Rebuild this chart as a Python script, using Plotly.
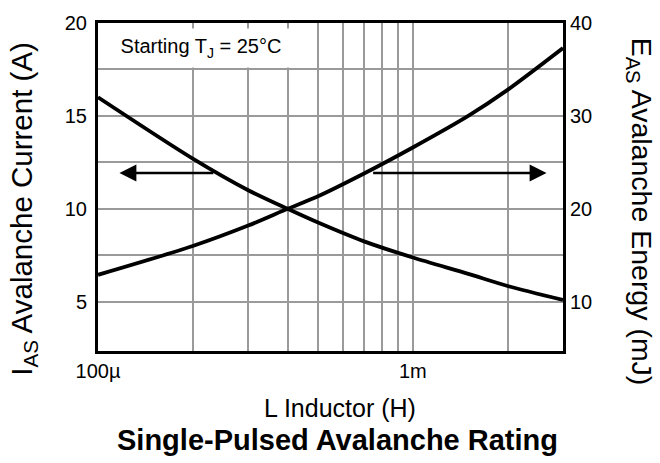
import numpy as np
import plotly.graph_objects as go

# Data
L_henry = [1e-4, 2e-4, 3e-4, 4e-4, 5e-4, 7e-4, 1e-3, 1.5e-3, 2e-3, 3e-3]
I_as = [16.0, 12.7, 11.0, 10.0, 9.26, 8.25, 7.38, 6.5, 5.85, 5.1]
E_as = [12.9, 16.0, 18.2, 20.0, 21.35, 23.8, 26.6, 30.0, 32.8, 37.3]

x_tickvals = [1e-4, 1e-3]
x_ticktext = ["100\u00b5", "1m"]
x_gridvals = [2e-4, 3e-4, 4e-4, 5e-4, 6e-4, 7e-4, 8e-4, 9e-4, 2e-3]
y_tickvals = [5, 10, 15, 20]
y_gridvals = [7.5, 12.5, 17.5]
y2_tickvals = [10, 20, 30, 40]

# arrows (x in H, y in A on left axis)
arrow_left = dict(tail=2.35e-4, head=1.17e-4, y=11.93)
arrow_right = dict(tail=7.4e-4, head=2.66e-3, y=11.93)

FONT = "Liberation Sans, Arial, sans-serif"
GRID = "#9a9a9a"

fig = go.Figure()
fig.add_trace(go.Scatter(x=L_henry, y=I_as, mode="lines",
                         line=dict(color="black", width=3.8, shape="spline", smoothing=0.8),
                         yaxis="y", showlegend=False, hoverinfo="skip"))
fig.add_trace(go.Scatter(x=L_henry, y=E_as, mode="lines",
                         line=dict(color="black", width=3.8, shape="spline", smoothing=0.8),
                         yaxis="y2", showlegend=False, hoverinfo="skip"))

annotations = []
for a in (arrow_left, arrow_right):
    annotations.append(dict(
        x=np.log10(a["head"]), y=a["y"], ax=np.log10(a["tail"]), ay=a["y"],
        xref="x", yref="y", axref="x", ayref="y",
        showarrow=True, arrowhead=2, arrowsize=1.3, arrowwidth=2.6,
        arrowcolor="black", text=""))

annotations.append(dict(
    x=(201 - 98) / 465, y=(351 - 44) / 332, xref="paper", yref="paper",
    text="Starting T<sub>J</sub> = 25\u00b0C", showarrow=False,
    font=dict(family=FONT, size=20, color="black"),
    bgcolor="white", width=202, height=38, borderpad=0,
    xanchor="center", yanchor="middle"))

annotations.append(dict(
    x=(24 - 98) / 465, y=(351 - 207) / 332, xref="paper", yref="paper",
    text="I<sub>AS</sub> Avalanche Current (A)", showarrow=False, textangle=-90,
    font=dict(family=FONT, size=29.5, color="black"),
    xanchor="center", yanchor="middle"))
annotations.append(dict(
    x=(640 - 98) / 465, y=(351 - 210) / 332, xref="paper", yref="paper",
    text="E<sub>AS</sub> Avalanche Energy (mJ)", showarrow=False, textangle=90,
    font=dict(family=FONT, size=28.5, color="black"),
    xanchor="center", yanchor="middle"))
annotations.append(dict(
    x=(340 - 98) / 465, y=(351 - 409) / 332, xref="paper", yref="paper",
    text="L Inductor (H)", showarrow=False,
    font=dict(family=FONT, size=25, color="black"),
    xanchor="center", yanchor="middle"))
annotations.append(dict(
    x=(337 - 98) / 465, y=(351 - 441) / 332, xref="paper", yref="paper",
    text="<b>Single-Pulsed Avalanche Rating</b>", showarrow=False,
    font=dict(family=FONT, size=29, color="black"),
    xanchor="center", yanchor="middle"))

fig.update_layout(
    width=660, height=463,
    margin=dict(l=98, r=97, t=19, b=112),
    paper_bgcolor="white", plot_bgcolor="white",
    font=dict(family=FONT, size=20, color="black"),
    showlegend=False,
    xaxis=dict(type="log", range=[np.log10(1e-4), np.log10(3e-3)],
               tickmode="array", tickvals=x_tickvals, ticktext=x_ticktext,
               ticks="",
               showgrid=True, gridcolor=GRID, gridwidth=1.5,
               minor=dict(tickmode="array", tickvals=x_gridvals, showgrid=True,
                          gridcolor=GRID, gridwidth=1.5, ticks=""),
               showline=True, linecolor="black", linewidth=3, mirror=True,
               zeroline=False, tickfont=dict(size=20)),
    yaxis=dict(range=[2.35, 20], tickmode="array", tickvals=y_tickvals,
               ticks="outside", ticklen=4, tickcolor="rgba(0,0,0,0)",
               showgrid=True, gridcolor=GRID, gridwidth=1.5,
               minor=dict(tickmode="array", tickvals=y_gridvals, showgrid=True,
                          gridcolor=GRID, gridwidth=1.5, ticks=""),
               showline=True, linecolor="black", linewidth=3, mirror=True,
               zeroline=False, tickfont=dict(size=20)),
    yaxis2=dict(range=[4.7, 40], overlaying="y", side="right",
                tickmode="array", tickvals=y2_tickvals,
                ticks="",
                showgrid=False, showline=True, linecolor="black", linewidth=3,
                zeroline=False, tickfont=dict(size=20)),
    annotations=annotations,
)

fig.write_html("out.html", config={"displayModeBar": False},
               post_script="document.body.style.margin='0px';document.body.style.padding='0px';")
